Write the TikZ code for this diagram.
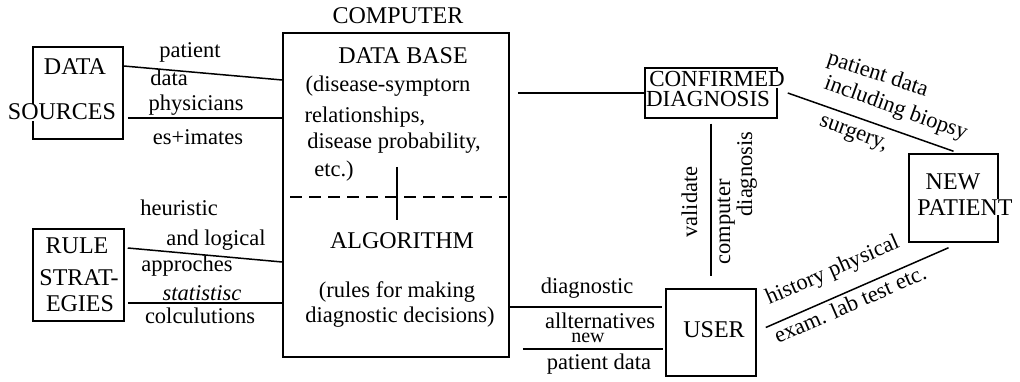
\documentclass[tikz,border=0pt]{standalone}
\usepackage{fontspec}
\setmainfont{Liberation Serif}
\begin{document}
\begin{tikzpicture}[x=1pt,y=-1pt]
\tikzset{
  box/.style={draw, line width=1.5pt, inner sep=0pt},
  wire/.style={line width=1.5pt},
  captext/.style={font=\fontsize{24}{24}\selectfont, anchor=base, inner sep=0pt},
  lab/.style={font=\fontsize{22.5}{22.5}\selectfont, anchor=base, inner sep=0pt},
  smalltext/.style={font=\fontsize{20}{20}\selectfont, anchor=base, inner sep=0pt},
  mask/.style={fill=white, inner sep=0.5pt}
}
\useasboundingbox (0,0) rectangle (1020,382);

% boxes
\node[box, minimum width=90pt, minimum height=92pt] (ds) at (78,93) {};
\node[box, minimum width=91pt, minimum height=92pt] (rs) at (78.5,275) {};
\node[box, minimum width=226pt, minimum height=324pt] (comp) at (396,195) {};
\node[box, minimum width=132pt, minimum height=50pt] (cd) at (711,93) {};
\node[box, minimum width=89pt, minimum height=88pt] (np) at (953.5,198) {};
\node[box, minimum width=90pt, minimum height=87pt] (user) at (711,332.5) {};

% box texts
\node[captext] (dsA) at (75,75) {DATA};
\node[captext, mask] (dsB) at (62,120) {SOURCES};
\node[captext] (rsA) at (77,253) {RULE};
\node[captext] (rsB) at (79,285) {STRAT-};
\node[captext] (rsC) at (80,311) {EGIES};
\node[captext] (compT) at (398,24) {COMPUTER};
\node[captext] (dbA) at (403,64) {DATA BASE};
\node[lab] (dbB) at (388,92) {(disease-symptorn};
\node[lab] (dbC) at (365,123) {relationships,};
\node[lab] (dbD) at (394,149) {disease probability,};
\node[lab] (dbE) at (334,177) {etc.)};
\node[captext] (alA) at (402,248) {ALGORITHM};
\node[lab] (alB) at (397,297) {(rules for making};
\node[lab] (alC) at (400,322) {diagnostic decisions)};
\node[captext, mask, font=\fontsize{23}{23}\selectfont] (cdA) at (717,87) {CONFIRMED};
\node[captext, font=\fontsize{23}{23}\selectfont] (cdB) at (708,107) {DIAGNOSIS};
\node[captext] (npA) at (953,190) {NEW};
\node[captext, mask] (npB) at (965,215) {PATIENT};
\node[captext] (usA) at (714,337) {USER};

% connectors
\draw[wire] (ds.east |- 0,66) -- (comp.west |- 0,80);
\draw[wire] ([xshift=4pt]ds.east |- 0,118) -- (comp.west |- 0,118);
\draw[wire] ([xshift=3pt]rs.east |- 0,248) -- (comp.west |- 0,262);
\draw[wire] ([xshift=3pt]rs.east |- 0,303) -- (comp.west |- 0,303);
\draw[wire] ([xshift=8pt]comp.east |- cd.west) -- (cd.west);
\draw[wire] ([xshift=10pt]cd.east) -- ([yshift=2pt]np.north);
\draw[wire] ([yshift=-5pt]cd.south) -- ([yshift=12pt]user.north);
\draw[wire] (comp.east |- 0,307) -- ([xshift=-3pt]user.west |- 0,307);
\draw[wire] ([xshift=13pt]comp.east |- 0,349) -- ([xshift=-2pt]user.west |- 0,349);
\draw[wire] ([xshift=9pt,yshift=5pt]user.east) -- ([xshift=-5pt,yshift=-5pt]np.south);

% inner divisions of computer box
\draw[line width=1.5pt, dash pattern=on 12pt off 7pt] ([xshift=8pt]comp.west |- 0,197) -- ([xshift=-3pt]comp.east |- 0,197);
\draw[wire] ([xshift=1pt]comp.north |- 0,167) -- ([xshift=1pt]comp.north |- 0,220);

% labels left
\node[lab] (l1) at (190,58) {patient};
\node[lab] (l2) at (169,86) {data};
\node[lab] (l3) at (196,111) {physicians};
\node[lab] (l4) at (198,145) {es+imates};
\node[lab] (l5) at (179,215) {heuristic};
\node[lab] (l6) at (216,245) {and logical};
\node[lab] (l7) at (187,272) {approches};
\node[lab, font=\fontsize{22.5}{22.5}\selectfont\itshape] (l8) at (202,300) {statistisc};
\node[lab] (l9) at (200,323) {colculutions};

% labels bottom middle
\node[lab] (m1) at (587,293) {diagnostic};
\node[lab] (m2) at (600,328) {allternatives};
\node[smalltext] (m3) at (588,342) {new};
\node[lab] (m4) at (599,369) {patient data};

% vertical labels
\node[lab, rotate=90] (v1) at (697,202) {validate};
\node[lab, rotate=90] (v2) at (730,222) {computer};
\node[lab, rotate=90] (v3) at (752,174) {diagnosis};

% slanted labels
\node[lab, rotate=-18] (s1) at (876,80) {patient data};
\node[lab, rotate=-20] (s2) at (894,114) {including biopsy};
\node[lab, rotate=-20] (s3) at (852,138) {surgery,};
\node[lab, rotate=23.6] (s4) at (835,276) {history physical};
\node[lab, rotate=23.6] (s5) at (853,311) {exam. lab test etc.};
\end{tikzpicture}
\end{document}
